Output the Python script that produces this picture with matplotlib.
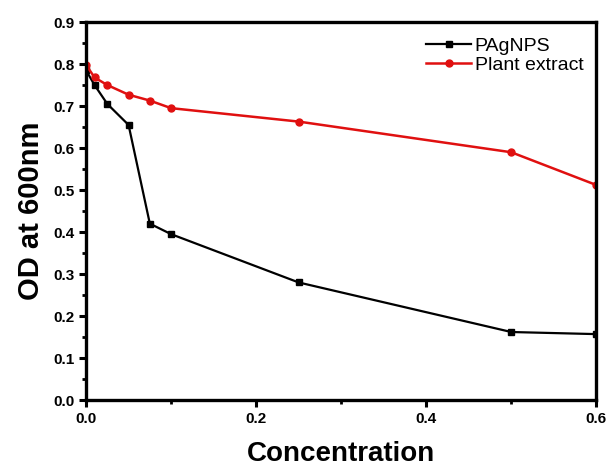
import matplotlib
matplotlib.use("Agg")
import matplotlib.pyplot as plt
from matplotlib.ticker import MultipleLocator, FormatStrFormatter

plt.rcParams['font.family'] = ['Liberation Sans', 'DejaVu Sans']

conc = [0.0, 0.01, 0.025, 0.05, 0.075, 0.1, 0.25, 0.5, 0.6]
od_pagnps = [0.785, 0.750, 0.705, 0.655, 0.420, 0.395, 0.280, 0.162, 0.157]
od_plant = [0.798, 0.768, 0.750, 0.727, 0.713, 0.695, 0.663, 0.590, 0.512]

fig = plt.figure(figsize=(6.06, 4.69), dpi=100)
ax = fig.add_axes([0.142, 0.147, 0.842, 0.806])

ax.plot(conc, od_pagnps, color='black', lw=1.6, marker='s', ms=4.5, label='PAgNPS')
ax.plot(conc, od_plant, color='#e01010', lw=1.8, marker='o', ms=5, label='Plant extract')

ax.set_xlim(0, 0.6)
ax.set_ylim(0, 0.9)
ax.xaxis.set_major_locator(MultipleLocator(0.2))
ax.xaxis.set_minor_locator(MultipleLocator(0.1))
ax.yaxis.set_major_locator(MultipleLocator(0.1))
ax.yaxis.set_minor_locator(MultipleLocator(0.05))
ax.xaxis.set_major_formatter(FormatStrFormatter('%.1f'))
ax.yaxis.set_major_formatter(FormatStrFormatter('%.1f'))

for s in ax.spines.values():
    s.set_linewidth(2.4)
ax.tick_params(which='major', direction='out', length=5, width=2.2, labelsize=11)
ax.tick_params(which='minor', direction='out', length=3, width=2.0)
for lab in ax.get_xticklabels() + ax.get_yticklabels():
    lab.set_fontweight('bold')

ax.set_xlabel('Concentration', fontsize=20, fontweight='bold', labelpad=11)
ax.set_ylabel('OD at 600nm', fontsize=21, fontweight='bold', labelpad=6)

ax.legend(loc='upper right', frameon=False, fontsize=14, handlelength=2.3,
          handletextpad=0.2, labelspacing=0.05, borderaxespad=0.2,
          bbox_to_anchor=(0.998, 0.99))

fig.savefig('out.png', dpi=100)
